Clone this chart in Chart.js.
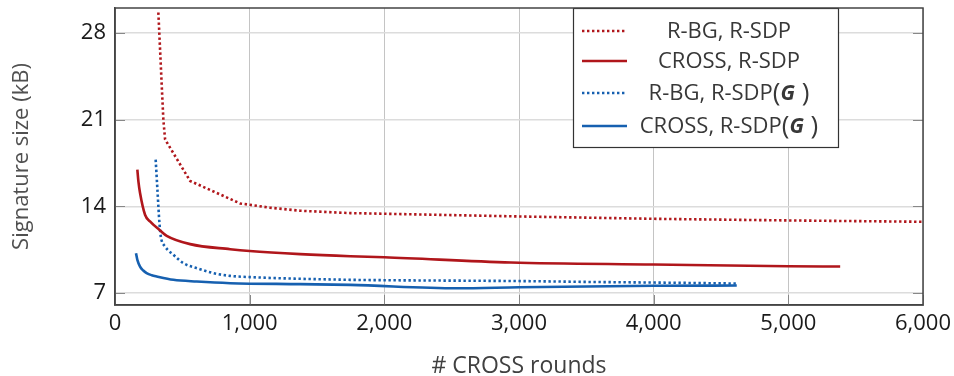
<!DOCTYPE html>
<html>
<head>
<meta charset="utf-8">
<script src="https://cdn.jsdelivr.net/npm/chart.js@4.4.1/dist/chart.umd.min.js"></script>
<style>
  html, body { margin: 0; padding: 0; background: #ffffff; }
  #wrap { width: 954px; height: 376px; }
</style>
</head>
<body>
<div id="wrap"><canvas id="c" width="954" height="376"></canvas></div>
<script>
// ---- Data ----
const seriesLabels = ['R-BG, R-SDP', 'CROSS, R-SDP', 'R-BG, R-SDP(G)', 'CROSS, R-SDP(G)'];

const rbgRsdpX = [322, 329, 345, 359, 372, 558, 929, 1150, 1375, 1747, 2000, 3000, 4000, 5000, 6000];
const rbgRsdpY = [29.64, 28.0, 24.2, 21.0, 19.4, 16.05, 14.24, 13.9, 13.65, 13.46, 13.41, 13.19, 13.0, 12.87, 12.76];

const crossRsdpX = [166, 174, 186, 223, 260, 335, 384, 558, 855, 1000, 1375, 1747, 2000, 2940, 4000, 5000, 5385];
const crossRsdpY = [16.96, 16.0, 15.08, 13.33, 12.79, 12.06, 11.63, 10.96, 10.55, 10.4, 10.15, 9.98, 9.9, 9.48, 9.32, 9.18, 9.15];

const rbgRsdpGX = [302, 315, 330, 340, 372, 434, 508, 607, 731, 855, 1000, 1747, 2000, 3000, 3600, 4000, 4617];
const rbgRsdpGY = [17.77, 15.35, 12.65, 11.58, 10.77, 10.1, 9.42, 9.02, 8.62, 8.4, 8.3, 8.08, 8.05, 7.98, 7.9, 7.86, 7.78];

const crossRsdpGX = [156, 166, 186, 210, 235, 273, 310, 434, 607, 855, 1375, 1747, 2540, 3000, 4000, 4617];
const crossRsdpGY = [10.23, 9.69, 9.15, 8.83, 8.62, 8.45, 8.35, 8.08, 7.94, 7.81, 7.73, 7.67, 7.40, 7.48, 7.6, 7.62];

const yTickValues = [7, 14, 21, 28];
const xTickValues = [0, 1000, 2000, 3000, 4000, 5000, 6000];

const RED = '#b0161b';
const BLUE = '#1660b0';
const FONT = "'Open Sans', 'DejaVu Sans', sans-serif";

function pts(xs, ys) { return xs.map((x, i) => ({ x: x, y: ys[i] })); }

// Custom legend drawn in a framed box attached to the top border
const boxLegend = {
  id: 'boxLegend',
  afterDatasetsDraw(chart) {
    const ctx = chart.ctx;
    const a = chart.chartArea;
    const bx = 573, by = a.top, bw = 265, bh = 139;
    ctx.save();
    ctx.fillStyle = '#ffffff';
    ctx.fillRect(bx, by, bw, bh);
    ctx.strokeStyle = '#333333';
    ctx.lineWidth = 1.2;
    ctx.strokeRect(bx + 0.5, by + 0.5, bw, bh);
    const rowY = [31, 61, 93, 126];
    const textCx = 729;
    chart.data.datasets.forEach((ds, i) => {
      const y = rowY[i];
      ctx.beginPath();
      ctx.strokeStyle = ds.borderColor;
      ctx.lineWidth = ds.borderWidth;
      ctx.setLineDash(ds.borderDash || []);
      ctx.moveTo(582, y);
      ctx.lineTo(627, y);
      ctx.stroke();
      ctx.setLineDash([]);
      // text, with the "(G)" set in larger parens and bold italic G
      const label = ds.label;
      const hasG = label.endsWith('(G)');
      const base = hasG ? label.slice(0, -3) : label;
      const fBase = "22px " + FONT;
      const fParen = "26px " + FONT;
      const fG = "italic bold 21px " + FONT;
      const parts = hasG
        ? [[base, fBase], ['(', fParen], ['G', fG], [' )', fParen]]
        : [[base, fBase]];
      let total = 0;
      parts.forEach(p => { ctx.font = p[1]; p.push(ctx.measureText(p[0]).width); total += p[2]; });
      let x = textCx - total / 2;
      ctx.fillStyle = '#383838';
      ctx.textBaseline = 'middle';
      ctx.textAlign = 'left';
      parts.forEach(p => { ctx.font = p[1]; ctx.fillText(p[0], x, y + 1); x += p[2]; });
    });
    ctx.restore();
  }
};

// Full frame + inward tick marks
const frame = {
  id: 'frame',
  afterDraw(chart) {
    const ctx = chart.ctx;
    const a = chart.chartArea;
    const xs = chart.scales.x, ys = chart.scales.y;
    ctx.save();
    ctx.strokeStyle = '#888888';
    ctx.lineWidth = 1;
    yTickValues.forEach(v => {
      const py = Math.round(ys.getPixelForValue(v)) + 0.5;
      ctx.beginPath(); ctx.moveTo(a.left, py); ctx.lineTo(a.left + 10, py); ctx.stroke();
      ctx.beginPath(); ctx.moveTo(a.right - 10, py); ctx.lineTo(a.right, py); ctx.stroke();
    });
    xTickValues.forEach(v => {
      const px = Math.round(xs.getPixelForValue(v)) + 0.5;
      ctx.beginPath(); ctx.moveTo(px, a.bottom); ctx.lineTo(px, a.bottom - 10); ctx.stroke();
    });
    ctx.strokeStyle = '#444444';
    ctx.lineWidth = 1.5;
    ctx.strokeRect(a.left, a.top, a.right - a.left, a.bottom - a.top);
    ctx.restore();
  }
};

new Chart(document.getElementById('c'), {
  type: 'line',
  data: {
    datasets: [
      { label: seriesLabels[0], data: pts(rbgRsdpX, rbgRsdpY), borderColor: RED, borderWidth: 2.6, borderDash: [2.4, 2.6], cubicInterpolationMode: 'default', tension: 0 },
      { label: seriesLabels[1], data: pts(crossRsdpX, crossRsdpY), borderColor: RED, borderWidth: 2.6 },
      { label: seriesLabels[2], data: pts(rbgRsdpGX, rbgRsdpGY), borderColor: BLUE, borderWidth: 2.6, borderDash: [2.4, 2.6] },
      { label: seriesLabels[3], data: pts(crossRsdpGX, crossRsdpGY), borderColor: BLUE, borderWidth: 2.6 }
    ]
  },
  options: {
    responsive: false,
    animation: false,
    devicePixelRatio: 1,
    layout: { padding: { left: 0, right: 31, top: 8, bottom: 0 } },
    elements: {
      point: { radius: 0 },
      line: { cubicInterpolationMode: 'monotone', fill: false, borderCapStyle: 'butt' }
    },
    plugins: {
      legend: { display: false },
      tooltip: { enabled: false }
    },
    scales: {
      x: {
        type: 'linear',
        min: 0, max: 6000,
        afterBuildTicks: (s) => { s.ticks = xTickValues.map(v => ({ value: v })); },
        afterFit: (s) => { s.height = 71; s.paddingLeft = 0; s.paddingRight = 0; },
        ticks: {
          color: '#1a1a1a',
          font: { family: FONT, size: 22 },
          padding: 6,
          maxRotation: 0,
          callback: (v) => v.toLocaleString('en-US')
        },
        grid: { color: '#c4c4c4', lineWidth: 1, drawTicks: false },
        border: { display: true, color: '#444444', width: 1.5 },
        title: {
          display: true,
          text: '# CROSS rounds',
          color: '#404040',
          font: { family: FONT, size: 23 },
          padding: { top: 0, bottom: -4 }
        }
      },
      y: {
        type: 'linear',
        min: 6.05, max: 30,
        afterBuildTicks: (s) => { s.ticks = yTickValues.map(v => ({ value: v })); },
        afterFit: (s) => { s.width = 115; s.paddingTop = 0; s.paddingBottom = 0; },
        ticks: {
          color: '#1a1a1a',
          font: { family: FONT, size: 22 },
          padding: 9
        },
        grid: { color: '#dcdcdc', lineWidth: 1.5, drawTicks: false },
        border: { display: true, color: '#444444', width: 1.5 },
        title: {
          display: true,
          text: 'Signature size (kB)',
          color: '#505050',
          font: { family: FONT, size: 22 },
          padding: { top: 9, bottom: 0 }
        }
      }
    }
  },
  plugins: [boxLegend, frame]
});
</script>
</body>
</html>
